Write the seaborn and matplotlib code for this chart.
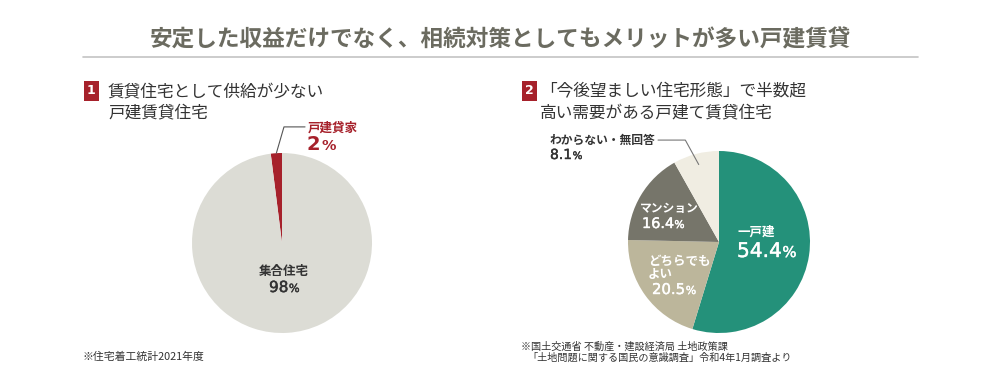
import numpy as np
import seaborn as sns
import matplotlib.pyplot as plt
import matplotlib.patheffects as pe

sns.set_theme(style='white')
plt.rcParams['font.family'] = ['Noto Sans CJK JP', 'DejaVu Sans']

# データ
labels1 = ['戸建貸家', '集合住宅']
values1 = [2, 98]
colors1 = ['#a6212b', '#dcdcd5']

labels2 = ['一戸建', 'どちらでも\nよい', 'マンション', 'わからない・無回答']
values2 = [54.4, 20.5, 16.4, 8.1]
colors2 = ['#24917a', '#bcb69b', '#76756a', '#f0ede2']

W, H = 1000, 373
NUM_FONT = ['DejaVu Sans']


def fx(x, y):
    return x / W, 1 - y / H


def pie_ax(cx, cy, r):
    ax = fig.add_axes([(cx - r) / W, 1 - (cy + r) / H, 2 * r / W, 2 * r / H])
    return ax


def fix_ax(ax):
    ax.set_xlim(-1, 1)
    ax.set_ylim(-1, 1)
    ax.set_aspect('auto')
    ax.axis('off')


def pct(x, y, num, size, color, weight='normal'):
    # 数字 + 小さめの%（ベースライン揃え）
    fx_ = [pe.withStroke(linewidth=0.3, foreground=color)] if weight == 'normal' else None
    t = fig.text(*fx(x, y), num, ha='left', va='baseline', fontsize=size,
                 family=NUM_FONT, fontweight=weight, color=color, path_effects=fx_)
    bb = t.get_window_extent(renderer)
    fig.text((bb.x1 + 0.5) / W, 1 - y / H, '%', ha='left', va='baseline',
             fontsize=size * 0.74, family=NUM_FONT, fontweight=weight, color=color,
             path_effects=fx_)


fig = plt.figure(figsize=(10, 3.73), dpi=100)
renderer = fig.canvas.get_renderer()

# タイトル
fig.text(*fx(500, 40), '安定した収益だけでなく、相続対策としてもメリットが多い戸建賃貸',
         ha='center', va='center', fontsize=16.3, fontweight='bold', color='#6b6b60')
fig.add_artist(plt.Line2D([83 / W, 918 / W], [1 - 57 / H] * 2, color='#c4c4c4', lw=1.2))

# 1
fig.text(*fx(91, 91), '1', ha='center', va='center', fontsize=9, fontweight='bold',
         color='white', family=NUM_FONT,
         bbox=dict(boxstyle='square,pad=0.25', fc='#a6212b', ec='none'))
fig.text(*fx(108, 92), '賃貸住宅として供給が少ない', ha='left', va='center', fontsize=12, color='#333333')
fig.text(*fx(108, 113), '戸建賃貸住宅', ha='left', va='center', fontsize=12, color='#333333')

ax1 = pie_ax(282, 243, 90)
ax1.pie(values1, colors=colors1, startangle=90, counterclock=True, radius=1,
        wedgeprops=dict(linewidth=0))
fix_ax(ax1)
a = np.deg2rad(90 + values1[0] / sum(values1) * 180)
ax1.plot([np.cos(a), 0.022, 0.256], [np.sin(a), 1.29, 1.29], color='#555555', lw=0.8, clip_on=False)
fig.text(*fx(308, 128), labels1[0], ha='left', va='center', fontsize=9, fontweight='bold', color='#a6212b')
pct(307, 150, f'{values1[0]}', 14, '#a6212b', 'bold')
fig.text(*fx(284, 271), labels1[1], ha='center', va='center', fontsize=9, fontweight='bold', color='#333333')
pct(269, 292, f'{values1[1]}', 11, '#333333')
fig.text(*fx(83, 357), '※住宅着工統計2021年度', ha='left', va='center', fontsize=7.8, color='#333333')

# 2
fig.text(*fx(529, 91), '2', ha='center', va='center', fontsize=9, fontweight='bold',
         color='white', family=NUM_FONT,
         bbox=dict(boxstyle='square,pad=0.25', fc='#a6212b', ec='none'))
fig.text(*fx(540, 92), '「今後望ましい住宅形態」で半数超', ha='left', va='center', fontsize=12, color='#333333')
fig.text(*fx(540, 113), '高い需要がある戸建て賃貸住宅', ha='left', va='center', fontsize=12, color='#333333')

ax2 = pie_ax(719, 242, 91)
ax2.pie(values2, colors=colors2, startangle=90, counterclock=False, radius=1,
        wedgeprops=dict(linewidth=0))
fix_ax(ax2)
frac = 1 - values2[3] / sum(values2) / 2
a = np.deg2rad(90 - frac * 360)
ax2.plot([0.88 * np.cos(a), -0.37, -0.67], [0.88 * np.sin(a), 1.12, 1.12],
         color='#777777', lw=0.8, clip_on=False)

fig.text(*fx(737, 232), labels2[0], ha='left', va='center', fontsize=9, fontweight='bold', color='white')
pct(737, 257, f'{values2[0]}', 14.5, 'white')
fig.text(*fx(648, 268), labels2[1], ha='left', va='center', fontsize=9, fontweight='bold',
         color='white', linespacing=1.0)
pct(652, 294, f'{values2[1]}', 10.7, 'white')
fig.text(*fx(640, 208), labels2[2], ha='left', va='center', fontsize=8.5, fontweight='bold', color='white')
pct(642, 228, f'{values2[2]}', 10.4, 'white')
fig.text(*fx(550, 140), labels2[3], ha='left', va='center', fontsize=8.5, fontweight='bold', color='#333333')
pct(550, 159, f'{values2[3]}', 10, '#333333')

fig.text(*fx(521, 347), '※国土交通省 不動産・建設経済局 土地政策課', ha='left', va='center',
         fontsize=7.3, color='#333333')
fig.text(*fx(527, 358), '「土地問題に関する国民の意識調査」令和4年1月調査より', ha='left', va='center',
         fontsize=7.3, color='#333333')

fig.savefig('out.png', dpi=100)
